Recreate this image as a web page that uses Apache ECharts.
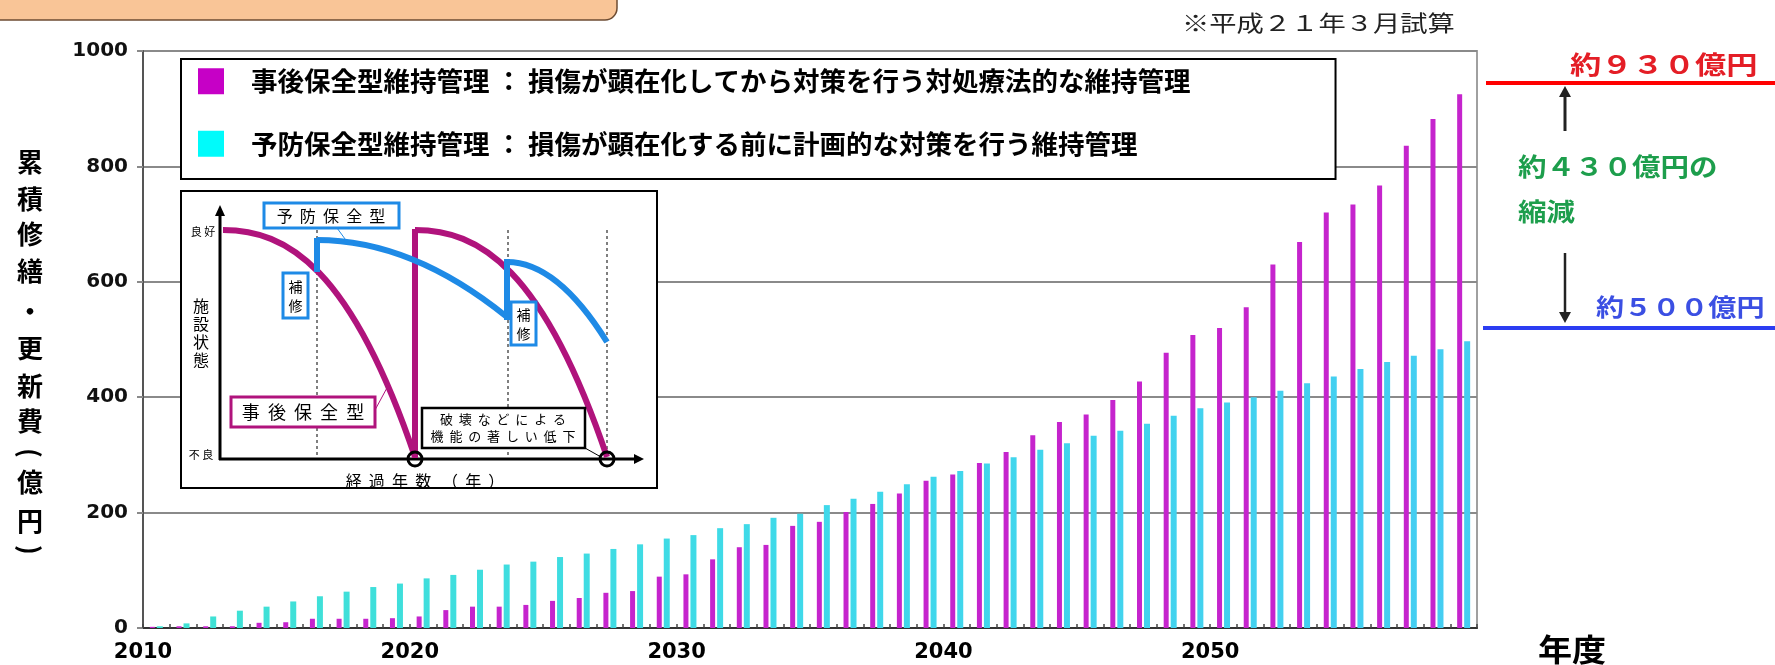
<!DOCTYPE html>
<html>
<head>
<meta charset="utf-8">
<script src="https://cdn.jsdelivr.net/npm/echarts@6/dist/echarts.min.js"></script>
<style>
  html, body { margin: 0; padding: 0; background: #ffffff; }
  #chart { width: 1775px; height: 665px; }
</style>
</head>
<body>
<div id="chart"></div>
<script>
// ---- data ----
const years = ['2010','2011','2012','2013','2014','2015','2016','2017','2018','2019',
  '2020','2021','2022','2023','2024','2025','2026','2027','2028','2029',
  '2030','2031','2032','2033','2034','2035','2036','2037','2038','2039',
  '2040','2041','2042','2043','2044','2045','2046','2047','2048','2049',
  '2050','2051','2052','2053','2054','2055','2056','2057','2058','2059'];
const xTickLabels = ['2010', '2020', '2030', '2040', '2050'];
const yTickLabels = ['0', '200', '400', '600', '800', '1000'];
const seriesNames = ['事後保全型維持管理', '予防保全型維持管理'];
const seriesDescriptions = ['損傷が顕在化してから対策を行う対処療法的な維持管理', '損傷が顕在化する前に計画的な対策を行う維持管理'];
// 事後保全型維持管理（億円, 累積）
const correctiveValues = [2, 3, 3, 3, 9, 10, 16, 16, 16, 17,
  20, 31, 37, 37, 40, 47, 52, 61, 64, 89,
  93, 119, 140, 144, 177, 184, 201, 215, 233, 255,
  266, 286, 305, 334, 357, 370, 395, 427, 477, 508,
  520, 556, 630, 669, 720, 734, 767, 836, 882, 925];
// 予防保全型維持管理（億円, 累積）
const preventiveValues = [3, 8, 20, 30, 37, 46, 55, 63, 71, 77,
  86, 92, 101, 110, 115, 123, 129, 137, 145, 155,
  161, 173, 180, 191, 198, 213, 224, 236, 249, 262,
  272, 285, 296, 309, 320, 333, 342, 354, 368, 381,
  391, 400, 411, 424, 436, 449, 461, 472, 483, 497];

// ---- chart ----
const chart = echarts.init(document.getElementById('chart'));
const JP = '"Noto Sans CJK JP", "Noto Sans", sans-serif';
const NUM = '"DejaVu Sans", "Liberation Sans", sans-serif';
const MAG = '#b0137c';
const BLU = '#1e8ae6';

function line(x1, y1, x2, y2, stroke, w, dash) {
  return { type: 'line', z: 100, shape: { x1, y1, x2, y2 },
    style: { stroke, lineWidth: w, lineDash: dash || null, lineCap: 'butt' } };
}
function curve(x1, y1, cpx1, cpy1, cpx2, cpy2, x2, y2, stroke, w) {
  return { type: 'bezierCurve', z: 100, shape: { x1, y1, cpx1, cpy1, cpx2, cpy2, x2, y2 },
    style: { stroke, lineWidth: w, fill: null, lineCap: 'butt' } };
}
function text(x, y, str, size, opts) {
  opts = opts || {};
  return { type: 'text', z: 101, x, y, scaleX: opts.scaleX || 1, rotation: opts.rotation || 0,
    style: { text: str, fontSize: size, fontFamily: opts.family || JP,
      fontWeight: opts.weight || 'normal', fill: opts.color || '#000',
      align: opts.align || 'left', verticalAlign: opts.valign || 'middle',
      lineHeight: opts.lineHeight || undefined } };
}
function box(x, y, w, h, stroke, lw) {
  return { type: 'rect', z: 100, shape: { x, y, width: w, height: h },
    style: { fill: '#fff', stroke, lineWidth: lw } };
}
function poly(points, fill) {
  return { type: 'polygon', z: 101, shape: { points }, style: { fill } };
}

const insetElements = [
  box(181, 191, 476, 297, '#000', 2),
  // dashed guides
  line(317, 230, 317, 457, '#555', 1.5, [3, 3]),
  line(508, 230, 508, 457, '#555', 1.5, [3, 3]),
  line(607, 230, 607, 457, '#555', 1.5, [3, 3]),
  // axes
  line(220, 460, 220, 214, '#000', 3),
  poly([[215, 216], [225, 216], [220, 205]], '#000'),
  line(219, 459, 636, 459, '#000', 3),
  poly([[634, 454], [634, 464], [644, 459]], '#000'),
  // corrective curve (magenta)
  curve(223, 230, 287, 230, 351, 268, 415, 457, MAG, 6),
  line(415, 458, 415, 229, MAG, 6),
  curve(415, 230, 479, 230, 543, 268, 607, 457, MAG, 6),
  // preventive curve (blue)
  line(317, 272, 317, 238, BLU, 6),
  curve(317, 240, 380, 240, 444, 266, 507, 317, BLU, 6),
  line(507, 320, 507, 259, BLU, 6),
  curve(507, 262, 540, 262, 574, 289, 607, 342, BLU, 6),
  // failure circles
  { type: 'circle', z: 102, shape: { cx: 415, cy: 459, r: 7 }, style: { fill: null, stroke: '#000', lineWidth: 3 } },
  { type: 'circle', z: 102, shape: { cx: 607, cy: 459, r: 7 }, style: { fill: null, stroke: '#000', lineWidth: 3 } },
  // leader lines
  line(337, 228, 348, 243, BLU, 1),
  line(375, 410, 388, 386, MAG, 1),
  line(585, 448, 601, 457, '#000', 1),
  // labels
  text(203, 232, '良 好', 11, { align: 'center' }),
  text(201, 455, '不 良', 11, { align: 'center' }),
  text(201, 333, '施\n設\n状\n態', 16, { align: 'center', lineHeight: 18 }),
  text(425, 481, '経  過  年  数   （  年  ）', 16, { align: 'center' }),
  box(264, 203, 135, 25, BLU, 3),
  text(331, 216, '予  防  保  全  型', 16, { align: 'center' }),
  box(283, 273, 25, 45, BLU, 3),
  text(295.5, 296, '補\n修', 14, { align: 'center', lineHeight: 19 }),
  box(511, 302, 25, 43, BLU, 3),
  text(523.5, 324, '補\n修', 14, { align: 'center', lineHeight: 19 }),
  box(231, 397, 144, 30, MAG, 3),
  text(303, 412, '事  後  保  全  型', 18, { align: 'center' }),
  box(422, 408, 163, 40, '#000', 2.5),
  text(503, 428, '破  壊  な  ど  に  よ  る\n機  能  の  著  し  い  低  下', 13, { align: 'center', lineHeight: 17 })
];

// vertical y-axis title, one glyph per row (brackets turned for vertical writing)
const titleGlyphs = [
  ['累', 162, 0], ['積', 199, 0], ['修', 234, 0], ['繕', 271, 0], ['・', 311, 0], ['更', 348, 0],
  ['新', 386, 0], ['費', 421, 0], ['(', 453, -Math.PI / 2], ['億', 482, 0], ['円', 521, 0], [')', 550, -Math.PI / 2]
];
const titleElements = titleGlyphs.map(([ch, y, rot]) =>
  text(30, y, ch, 26, { align: 'center', weight: 'bold', rotation: rot }));

const annotationElements = [
  // top-left header strip
  { type: 'rect', z: 100, shape: { x: -4, y: -4, width: 621, height: 24, r: [0, 0, 12, 0] },
    style: { fill: '#f9c597', stroke: '#6d4c33', lineWidth: 1.5 } },
  text(1182, 23, '※平成２１年３月試算', 22, { color: '#222', scaleX: 1.24 }),
  text(1538, 649, '年度', 31, { weight: 'bold', scaleX: 1.1 }),
  // right-hand comparison
  { type: 'rect', z: 100, shape: { x: 1486, y: 81, width: 289, height: 4 }, style: { fill: '#ff0000' } },
  { type: 'rect', z: 100, shape: { x: 1483, y: 326, width: 292, height: 4 }, style: { fill: '#2b3df2' } },
  text(1570, 64, '約９３０億円', 25, { weight: 'bold', color: '#e41e26', scaleX: 1.25 }),
  text(1518, 166, '約４３０億円の', 25, { weight: 'bold', color: '#1d9e4c', scaleX: 1.14 }),
  text(1518, 211, '縮減', 25, { weight: 'bold', color: '#1d9e4c', scaleX: 1.14 }),
  text(1596, 307, '約５００億円', 24, { weight: 'bold', color: '#3b4fe3', scaleX: 1.17 }),
  line(1565, 131, 1565, 95, '#222', 3),
  poly([[1559, 97], [1571, 97], [1565, 86]], '#222'),
  line(1565, 253, 1565, 314, '#222', 2.5),
  poly([[1559, 312], [1571, 312], [1565, 323]], '#222')
];

const cyanGradient = new echarts.graphic.LinearGradient(143, 0, 1477, 0, [
  { offset: 0, color: '#3fe2d2' },
  { offset: 0.5, color: '#3fd9ea' },
  { offset: 1, color: '#45cdf2' }
], true);

const option = {
  backgroundColor: '#ffffff',
  animation: false,
  grid: { left: 143, top: 51, width: 1334, height: 577, show: true,
    borderColor: '#a0a0a0', borderWidth: 2, backgroundColor: 'transparent', containLabel: false },
  legend: {
    show: true, orient: 'vertical', left: 181, top: 59,
    padding: [9, 145, 22, 17], itemGap: 36,
    itemWidth: 26, itemHeight: 26, icon: 'rect', selectedMode: false,
    backgroundColor: '#ffffff', borderColor: '#000', borderWidth: 2, borderRadius: 0,
    z: 50,
    data: [
      { name: seriesNames[0], itemStyle: { color: '#c600c6' } },
      { name: seriesNames[1], itemStyle: { color: '#00fbfb' } }
    ],
    formatter: (name) => name + ' ： ' + seriesDescriptions[seriesNames.indexOf(name)],
    textStyle: { fontFamily: JP, fontWeight: 'bold', fontSize: 26.5, color: '#000',
      lineHeight: 26, padding: [0, 0, 0, 22] }
  },
  xAxis: [
    {
      type: 'category', data: years, boundaryGap: true, gridIndex: 0,
      axisLine: { show: true, lineStyle: { color: '#333', width: 2 } },
      axisTick: { show: true, inside: true, length: 4, interval: 0, lineStyle: { color: '#444', width: 1.5 } },
      axisLabel: { show: false },
      splitLine: { show: false }
    },
    {
      type: 'value', min: 2010, max: 2060, interval: 10, gridIndex: 0, position: 'bottom',
      axisLine: { show: false }, axisTick: { show: false }, splitLine: { show: false },
      axisLabel: {
        show: true, margin: 14, color: '#000', fontFamily: NUM, fontWeight: 'bold', fontSize: 21,
        formatter: (v) => (xTickLabels.indexOf(String(v)) >= 0 ? String(v) : '')
      }
    }
  ],
  yAxis: {
    type: 'value', min: 0, max: 1000, interval: 200,
    axisLine: { show: true, lineStyle: { color: '#555', width: 2 } },
    axisTick: { show: true, length: 6, lineStyle: { color: '#8a8a8a', width: 2 } },
    axisLabel: { margin: 15, color: '#111', fontFamily: NUM, fontWeight: 'bold', fontSize: 20,
      formatter: (v) => yTickLabels[yTickLabels.indexOf(String(v))] },
    splitLine: { show: true, lineStyle: { color: '#8a8a8a', width: 2 } }
  },
  series: [
    {
      name: seriesNames[0], type: 'bar', xAxisIndex: 0, data: correctiveValues,
      barWidth: 5, barGap: '40%', itemStyle: { color: '#c524cd' }, z: 3
    },
    {
      name: seriesNames[1], type: 'bar', xAxisIndex: 0, data: preventiveValues,
      barWidth: 6, barGap: '40%', itemStyle: { color: cyanGradient }, z: 3
    }
  ],
  graphic: { elements: insetElements.concat(titleElements, annotationElements) }
};
chart.setOption(option);
</script>
</body>
</html>
